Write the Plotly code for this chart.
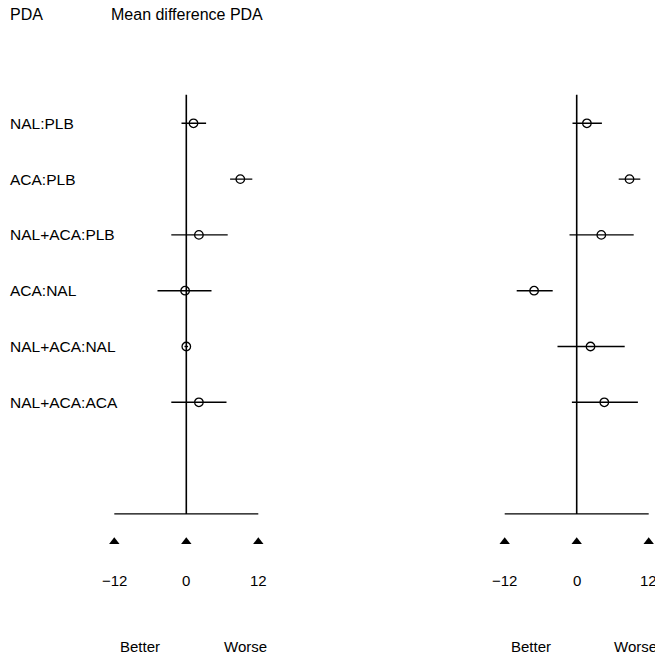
import plotly.graph_objects as go

comparisons = ["NAL:PLB", "ACA:PLB", "NAL+ACA:PLB", "ACA:NAL", "NAL+ACA:NAL", "NAL+ACA:ACA"]
left_mean = [1.2, 9.0, 2.1, -0.2, 0.0, 2.1]
left_lo = [-0.8, 7.3, -2.5, -4.8, -0.3, -2.5]
left_hi = [3.3, 11.0, 6.9, 4.2, 0.3, 6.7]
right_mean = [1.7, 8.8, 4.1, -7.1, 2.3, 4.6]
right_lo = [-0.7, 7.0, -1.2, -10.0, -3.2, -0.8]
right_hi = [4.2, 10.6, 9.5, -4.0, 8.0, 10.2]
tick_vals = [-12, 0, 12]
tick_text = ["\u221212", "0", "12"]
direction_labels = ["Better", "Worse"]

OFF = 8  # the page body margin shifts the figure by this many pixels
W, H = 663 - OFF, 659 - OFF
FONT = "Liberation Sans, Arial, Helvetica, sans-serif"
rows = list(range(1, len(comparisons) + 1))

fig = go.Figure()
annotations = []

panels = [("x", left_mean, left_lo, left_hi), ("x2", right_mean, right_lo, right_hi)]
for xa, m, lo, hi in panels:
    fig.add_trace(go.Scatter(
        x=m, y=rows, xaxis=xa, yaxis="y", mode="markers",
        marker=dict(symbol="circle-open", size=8.5, color="black", line=dict(width=1.3)),
        error_x=dict(type="data", symmetric=False,
                     array=[h - v for h, v in zip(hi, m)],
                     arrayminus=[v - l for v, l in zip(m, lo)],
                     color="black", thickness=1.4, width=0),
        showlegend=False, hoverinfo="skip"))
    fig.add_trace(go.Scatter(
        x=tick_vals, y=[8.5] * len(tick_vals), xaxis=xa, yaxis="y", mode="markers",
        marker=dict(symbol="triangle-up", size=9, color="black"),
        showlegend=False, hoverinfo="skip"))
    for tv, tt in zip(tick_vals, tick_text):
        annotations.append(dict(text=tt, xref=xa, yref="y", x=tv, y=9.2, xanchor="center",
                                yanchor="middle", showarrow=False,
                                font=dict(family=FONT, size=15, color="black")))
    dir_x = [tick_vals[0] + 4.3, tick_vals[-1] - 2.2]
    for dx, dl in zip(dir_x, direction_labels):
        annotations.append(dict(text=dl, xref=xa, yref="y", x=dx, y=10.38, xanchor="center",
                                yanchor="middle", showarrow=False,
                                font=dict(family=FONT, size=15, color="black")))
    fig.add_shape(type="line", xref=xa, yref="y", x0=0, x1=0, y0=0.49, y1=8.0,
                  line=dict(color="black", width=1.6))
    fig.add_shape(type="line", xref=xa, yref="y", x0=tick_vals[0], x1=tick_vals[-1], y0=8.0, y1=8.0,
                  line=dict(color="black", width=1.4))

for r, c in zip(rows, comparisons):
    annotations.append(dict(text=c, xref="paper", yref="y", x=(8 - OFF) / W, y=r, xanchor="left",
                            yanchor="middle", showarrow=False,
                            font=dict(family=FONT, size=15.5, color="black")))
head_y = 1 - (15 - OFF) / H
annotations.append(dict(text="PDA", xref="paper", yref="paper", x=(8 - OFF) / W, y=head_y,
                        xanchor="left", yanchor="middle", showarrow=False,
                        font=dict(family=FONT, size=16, color="black")))
annotations.append(dict(text="Mean difference PDA", xref="paper", yref="paper", x=(109 - OFF) / W,
                        y=head_y, xanchor="left", yanchor="middle", showarrow=False,
                        font=dict(family=FONT, size=16, color="black")))

ppu = 6.0  # pixels per unit
left_zero, right_zero = 186.3 - OFF, 576.7 - OFF
half = 331.5 - OFF
row_px, row_gap = 123.3 - OFF, 55.8
axis_common = dict(showgrid=False, zeroline=False, showticklabels=False, ticks="",
                   showline=False, fixedrange=True)

fig.update_layout(
    width=W, height=H, margin=dict(l=0, r=0, t=0, b=0),
    paper_bgcolor="white", plot_bgcolor="white",
    xaxis=dict(domain=[0, half / W], range=[-left_zero / ppu, (half - left_zero) / ppu], **axis_common),
    xaxis2=dict(domain=[half / W, 1], range=[(half - right_zero) / ppu, (W - right_zero) / ppu],
                anchor="y", **axis_common),
    yaxis=dict(domain=[0, 1], range=[1 + (H - row_px) / row_gap, 1 - row_px / row_gap], **axis_common),
    annotations=annotations,
)

fig.write_html("out.html")
